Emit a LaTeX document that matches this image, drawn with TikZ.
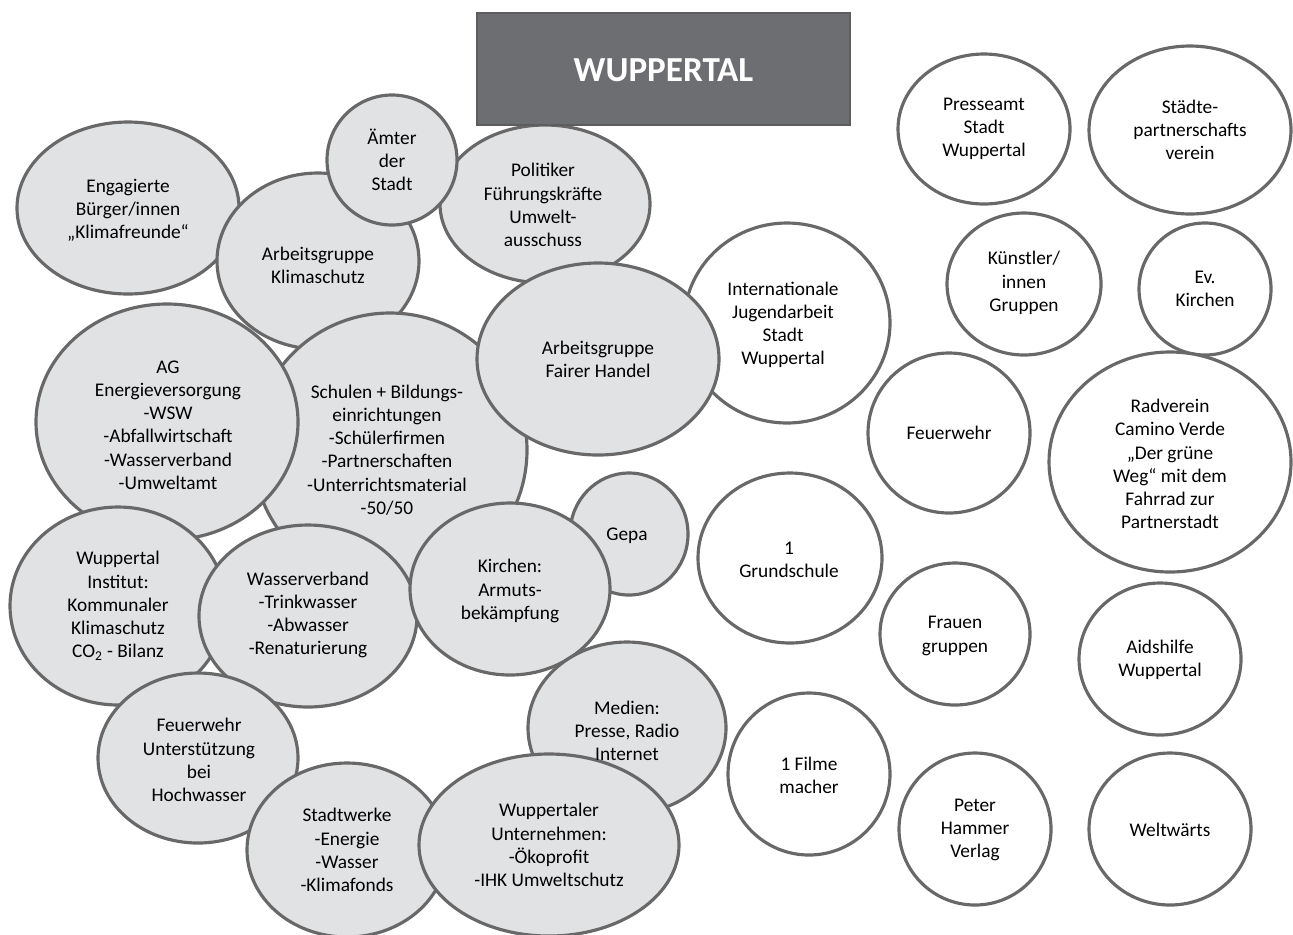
\documentclass[tikz,border=0pt]{standalone}
\usepackage{fontspec}
\setmainfont{Carlito}

\definecolor{blobgray}{HTML}{E1E2E4}
\definecolor{edgegray}{HTML}{686868}
\definecolor{titlegray}{HTML}{6D6E71}

\begin{document}
\begin{tikzpicture}[
	x=0.02cm, y=-0.02cm,
	line width=1.8pt,
	blob/.style={draw=edgegray, fill=blobgray},
	open/.style={draw=edgegray, fill=white},
	txt/.style={align=center, inner sep=0pt, font=\fontsize{11}{13.2}\selectfont},
	titletxt/.style={text=white, font=\fontsize{20}{24}\selectfont\bfseries}
	]
	% Rahmen
	\useasboundingbox (0,0) rectangle (1293,934);
	
	% Weisse Kreise (rechts)
	\foreach \cx/\cy/\rx/\ry in {787/323/103/100, 984/129/86/75, 1190/130/101/84,
		1024/284/77/71, 1205/289/66/66, 949/433/81/80, 1170/462/121/110,
		790/558/92/85, 955/634/75/71, 1160/659/81/76, 809/774/81/81,
		975/829/76/76, 1170/829/81/76}
	\draw[open] (\cx,\cy) ellipse[x radius=\rx, y radius=\ry];
	
	% Graue Kreise, von hinten nach vorne
	\foreach \cx/\cy/\rx/\ry in {128/208/111/86, 318/261/101/88, 390/450/137/137,
		545/204/105/79, 392/160/65/65, 598/359/121/96, 167/422/131/118,
		118/606/108/99, 308/616/109/91, 629/534/59/61, 510/589/100/86,
		627/728/99/86, 198/758/100/85, 347/850/100/87, 549/845/130/91}
	\draw[blob] (\cx,\cy) ellipse[x radius=\rx, y radius=\ry];
	
	% Titel
	\draw[draw=titlegray!85!black, fill=titlegray, line width=0.8pt] (477,13) rectangle (850,125);
	\node[titletxt] (titel) at (663.5,70) {WUPPERTAL};
	
	% Beschriftungen grau
	\node[txt] (engagiert) at (128,210) {Engagierte\\Bürger/innen\\„Klimafreunde“};
	\node[txt] (aemter) at (392,160) {Ämter\\der\\Stadt};
	\node[txt] (klima) at (318,265) {Arbeitsgruppe\\Klimaschutz};
	\node[txt] (politiker) at (543,205) {Politiker\\Führungskräfte\\Umwelt-\\ausschuss};
	\node[txt] (energie) at (168,425) {AG\\Energieversorgung\\-WSW\\-Abfallwirtschaft\\-Wasserverband\\-Umweltamt};
	\node[txt] (schulen) at (387,450) {Schulen + Bildungs-\\einrichtungen\\-Schülerfirmen\\-Partnerschaften\\-Unterrichtsmaterial\\-50/50};
	\node[txt] (fair) at (598,359) {Arbeitsgruppe\\Fairer Handel};
	\node[txt] (gepa) at (627,536) {Gepa};
	\node[txt] (institut) at (118,606) {Wuppertal\\Institut:\\Kommunaler\\Klimaschutz\\CO\textsubscript{2} - Bilanz};
	\node[txt] (wasser) at (308,615) {Wasserverband\\-Trinkwasser\\-Abwasser\\-Renaturierung};
	\node[txt] (kirchen) at (510,591) {Kirchen:\\Armuts-\\bekämpfung};
	\node[txt] (medien) at (627,731) {Medien:\\Presse, Radio\\Internet};
	\node[txt] (hochwasser) at (199,760) {Feuerwehr\\Unterstützung\\bei\\Hochwasser};
	\node[txt] (stadtwerke) at (347,850) {Stadtwerke\\-Energie\\-Wasser\\-Klimafonds};
	\node[txt] (unternehmen) at (549,845) {Wuppertaler\\Unternehmen:\\-Ökoprofit\\-IHK Umweltschutz};
	
	% Beschriftungen weiss
	\node[txt] (jugend) at (783,325) {Internationale\\Jugendarbeit\\Stadt\\Wuppertal};
	\node[txt] (presse) at (984,129) {Presseamt\\Stadt\\Wuppertal};
	\node[txt] (staedte) at (1190,130) {Städte-\\partnerschafts\\verein};
	\node[txt] (kuenstler) at (1024,283) {Künstler/\\innen\\Gruppen};
	\node[txt] (evkirchen) at (1205,289) {Ev.\\Kirchen};
	\node[txt] (feuerwehr) at (949,433) {Feuerwehr};
	\node[txt] (radverein) at (1170,464) {Radverein\\Camino Verde\\„Der grüne\\Weg“ mit dem\\Fahrrad zur\\Partnerstadt};
	\node[txt] (grundschule) at (789,560) {1\\Grundschule};
	\node[txt] (frauen) at (955,636) {Frauen\\gruppen};
	\node[txt] (aidshilfe) at (1160,660) {Aidshilfe\\Wuppertal};
	\node[txt] (filme) at (809,775) {1 Filme\\macher};
	\node[txt] (verlag) at (975,830) {Peter\\Hammer\\Verlag};
	\node[txt] (weltwaerts) at (1170,830) {Weltwärts};
\end{tikzpicture}
\end{document}
